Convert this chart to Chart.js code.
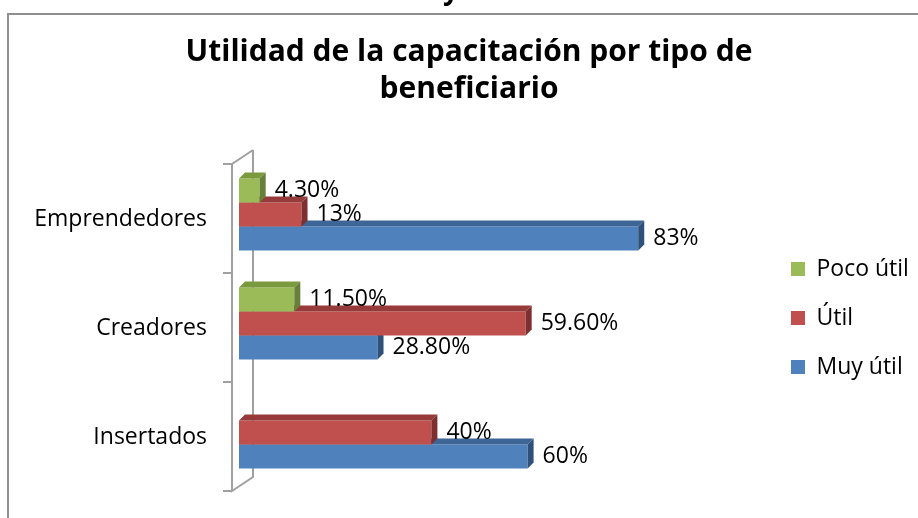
<!DOCTYPE html>
<html>
<head>
<meta charset="utf-8">
<script src="https://cdn.jsdelivr.net/npm/chart.js@4.4.1/dist/chart.umd.min.js"></script>
<style>
  html, body { margin: 0; padding: 0; background: #fff; }
  #wrap { position: relative; width: 918px; height: 518px; }
</style>
</head>
<body>
<div id="wrap"><canvas id="grafico"></canvas></div>
<script>
// Datos
const categorias = ['Emprendedores', 'Creadores', 'Insertados'];
const series = ['Poco útil', 'Útil', 'Muy útil'];
const pocoUtil = [4.3, 11.5, null];
const util = [13, 59.6, 40];
const muyUtil = [83, 28.8, 60];
const etiquetasPocoUtil = ['4.30%', '11.50%', ''];
const etiquetasUtil = ['13%', '59.60%', '40%'];
const etiquetasMuyUtil = ['83%', '28.80%', '60%'];

const FUENTE = '"Open Sans", Lato, sans-serif';
const PROF = 6; // profundidad del efecto 3D de las barras

// marco de la imagen y ejes en perspectiva
const marco = {
  id: 'marco',
  beforeDraw(chart) {
    const ctx = chart.ctx;
    ctx.save();
    ctx.strokeStyle = '#8f8f8f';
    ctx.lineWidth = 2;
    ctx.beginPath();
    ctx.moveTo(8, chart.height);
    ctx.lineTo(8, 14);
    ctx.lineTo(chart.width, 14);
    ctx.stroke();
    // resto de texto cortado en el borde superior
    ctx.fillStyle = '#000';
    ctx.font = 'bold 28px ' + FUENTE;
    ctx.textBaseline = 'alphabetic';
    ctx.fillText('y', 443, -1);
    ctx.restore();
  },
  beforeDatasetsDraw(chart) {
    const { ctx, chartArea: a, scales: { y } } = chart;
    const n = chart.data.labels.length;
    const banda = (y.bottom - y.top) / n;
    const fx = a.left - 7, bx = a.left + 14, dy = 4, fondo = 14;
    ctx.save();
    ctx.strokeStyle = '#a0a0a0';
    ctx.lineWidth = 2;
    ctx.beginPath();
    ctx.moveTo(bx, a.top + dy - fondo);
    ctx.lineTo(bx, a.bottom + dy - fondo);
    ctx.lineTo(fx, a.bottom + dy);
    ctx.lineTo(fx, a.top + dy);
    ctx.lineTo(bx, a.top + dy - fondo);
    for (let i = 0; i <= n; i++) {
      const ty = y.top + i * banda + dy;
      ctx.moveTo(fx - 9, ty);
      ctx.lineTo(fx, ty);
    }
    ctx.stroke();
    ctx.restore();
  }
};

// caras superior y lateral de cada barra
const barras3d = {
  id: 'barras3d',
  afterDatasetDraw(chart, args) {
    const ctx = chart.ctx;
    const ds = chart.data.datasets[args.index];
    args.meta.data.forEach((bar, i) => {
      if (ds.data[i] == null) return;
      const { x, y, base, height } = bar.getProps(['x', 'y', 'base', 'height'], true);
      const arriba = y - height / 2, abajo = y + height / 2;
      ctx.save();
      ctx.fillStyle = ds.colorArriba;
      ctx.beginPath();
      ctx.moveTo(base, arriba);
      ctx.lineTo(base + PROF, arriba - PROF);
      ctx.lineTo(x + PROF, arriba - PROF);
      ctx.lineTo(x, arriba);
      ctx.closePath();
      ctx.fill();
      ctx.fillStyle = ds.colorLado;
      ctx.beginPath();
      ctx.moveTo(x, arriba);
      ctx.lineTo(x + PROF, arriba - PROF);
      ctx.lineTo(x + PROF, abajo - PROF);
      ctx.lineTo(x, abajo);
      ctx.closePath();
      ctx.fill();
      ctx.restore();
    });
  }
};

// etiquetas de valor a la derecha de las barras
const etiquetas = {
  id: 'etiquetas',
  afterDatasetsDraw(chart) {
    const ctx = chart.ctx;
    ctx.save();
    ctx.font = '23px ' + FUENTE;
    ctx.fillStyle = '#000';
    ctx.textBaseline = 'middle';
    ctx.textAlign = 'left';
    chart.data.datasets.forEach((ds, d) => {
      chart.getDatasetMeta(d).data.forEach((bar, i) => {
        const txt = ds.etiquetas[i];
        if (!txt) return;
        ctx.fillText(txt, bar.x + 15, bar.y);
      });
    });
    ctx.restore();
  }
};

new Chart(document.getElementById('grafico'), {
  type: 'bar',
  data: {
    labels: categorias,
    datasets: [
      { label: series[0], data: pocoUtil, etiquetas: etiquetasPocoUtil,
        backgroundColor: '#9bbb59', borderColor: '#9bbb59', colorArriba: '#7b9a3e', colorLado: '#66803a' },
      { label: series[1], data: util, etiquetas: etiquetasUtil,
        backgroundColor: '#c0504d', borderColor: '#c0504d', colorArriba: '#963b39', colorLado: '#7d302f' },
      { label: series[2], data: muyUtil, etiquetas: etiquetasMuyUtil,
        backgroundColor: '#4f81bd', borderColor: '#4f81bd', colorArriba: '#3d6596', colorLado: '#2f5079' }
    ]
  },
  options: {
    indexAxis: 'y',
    responsive: true,
    maintainAspectRatio: false,
    animation: false,
    layout: { padding: { left: 25, top: 0, right: 5, bottom: 31 } },
    datasets: { bar: { categoryPercentage: 0.66, barPercentage: 1, borderWidth: 0 } },
    scales: {
      x: { display: false, min: 0, max: 100 },
      y: {
        grid: { display: false, drawTicks: true, tickLength: 32 },
        border: { display: false },
        ticks: { padding: 0, labelOffset: 5, color: '#000', font: { family: FUENTE, size: 23 } },
        afterFit: s => { s.width = 214; }
      },
      relleno: {
        type: 'linear', axis: 'y', position: 'right',
        grid: { display: false, drawTicks: false },
        border: { display: false },
        ticks: { display: false },
        afterFit: s => { s.width = 45; }
      }
    },
    plugins: {
      title: {
        display: true,
        text: ['Utilidad de la capacitación por tipo de', 'beneficiario'],
        color: '#000',
        font: { family: FUENTE, size: 30, weight: 'bold', lineHeight: '37px' },
        padding: { top: 34, bottom: 52 }
      },
      legend: {
        position: 'right',
        fullSize: false,
        title: { display: true, text: '', font: { size: 1, lineHeight: 0 }, padding: { top: 0, bottom: -11 } },
        labels: { boxWidth: 14, boxHeight: 14, padding: 26, color: '#000', font: { family: FUENTE, size: 23 } }
      },
      tooltip: { enabled: false }
    }
  },
  plugins: [marco, barras3d, etiquetas]
});
</script>
</body>
</html>
